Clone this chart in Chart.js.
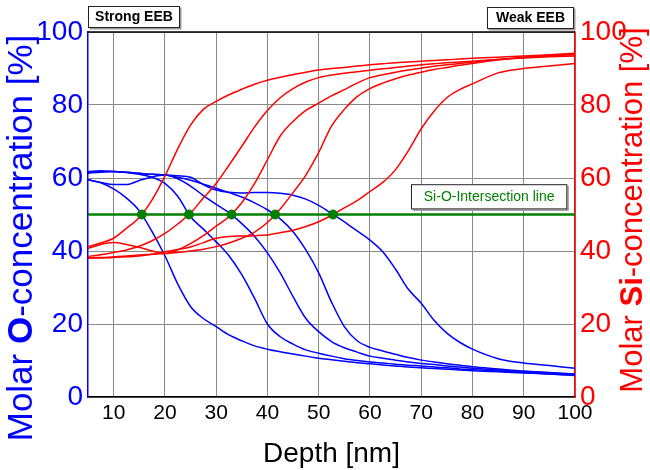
<!DOCTYPE html>
<html>
<head>
<meta charset="utf-8">
<script src="https://cdn.jsdelivr.net/npm/chart.js@4.4.1/dist/chart.umd.min.js"></script>
<style>
  html, body { margin: 0; padding: 0; background: #fff; }
  canvas { display: block; }
</style>
</head>
<body>
<canvas id="c" width="650" height="470" style="width:650px;height:470px"></canvas>
<script>
// Sputter depth grid (nm) shared by all profiles
const depth = [5, 7.5, 10, 12.5, 15, 17.5, 20, 22.5, 25, 27.5, 30, 32.5, 35, 37.5, 40, 42.5, 45, 47.5, 50,
  52.5, 55, 57.5, 60, 62.5, 65, 67.5, 70, 72.5, 75, 77.5, 80, 85, 90, 95, 100];

// Oxygen profiles (molar %), strong EEB -> weak EEB
const oxygen1 = [59.5, 58.7, 57, 54.5, 51, 45.3, 38.7, 31, 24.8, 21.5, 19.3, 17, 15.4, 14, 13.1, 12.4, 11.8, 11.2, 10.6,
  10.2, 9.8, 9.4, 9.1, 8.8, 8.5, 8.2, 8, 7.8, 7.6, 7.4, 7.2, 6.9, 6.6, 6.3, 5.9];
const oxygen2 = [61.8, 62, 61.8, 61.5, 61, 60.2, 58.5, 55, 49.4, 46, 42.5, 38.7, 33.5, 27, 20, 16.5, 14.5, 12.9, 12,
  11.2, 10.5, 10, 9.6, 9.3, 9, 8.7, 8.5, 8.2, 8, 7.7, 7.5, 7.1, 6.7, 6.3, 6];
const oxygen3 = [59.5, 58.8, 58.2, 58.2, 59.3, 60.3, 60.8, 59.8, 57.8, 55.2, 52.8, 50.5, 47.5, 44, 39.5, 34, 27.5, 21.5, 17.9,
  15.2, 13.5, 12.3, 11.2, 10.6, 10.1, 9.6, 9.2, 8.9, 8.5, 8.2, 7.9, 7.4, 7, 6.6, 6.2];
const oxygen4 = [61.5, 61.8, 61.8, 61.6, 61.3, 61, 60.8, 60.2, 59.4, 58.3, 57.2, 56, 54.8, 53.2, 51.3, 48.8, 45.3, 40.3, 34,
  26, 19.3, 15.4, 13.6, 12.6, 11.7, 10.8, 10.1, 9.6, 9.1, 8.7, 8.3, 7.7, 7.1, 6.7, 6.3];
const oxygen5 = [61.3, 61.6, 61.8, 61.6, 61.3, 61, 60.8, 60.6, 60.2, 58.2, 56.7, 56.1, 55.9, 56, 56, 55.8, 55.3, 54.2, 52.5,
  50.3, 48, 45.5, 43, 39.8, 35, 29.5, 25.7, 21, 17.5, 15, 13.1, 10.5, 9.3, 8.6, 7.9];

// Silicon profiles (molar %), same order
const silicon1 = [41.2, 42.2, 43.5, 46.2, 49.2, 54, 60.5, 68, 74.5, 78.8, 81, 82.8, 84.3, 85.7, 86.8, 87.6, 88.3, 89, 89.6,
  90, 90.3, 90.7, 91, 91.3, 91.6, 91.8, 92, 92.2, 92.4, 92.6, 92.8, 93.1, 93.4, 93.8, 94.2];
const silicon2 = [38.5, 39, 39.6, 40.3, 41.3, 42.8, 44.8, 47.4, 50.4, 54.5, 58.5, 63.5, 68.7, 74, 78.5, 82, 84.5, 86.3, 87.5,
  88.2, 88.7, 89.1, 89.5, 89.9, 90.3, 90.7, 91, 91.3, 91.6, 91.8, 92, 92.5, 92.9, 93.2, 93.4];
const silicon3 = [40.7, 41.8, 42.3, 41.8, 41, 40, 39.3, 40.3, 42, 44.2, 46.8, 49.4, 53.2, 58.5, 65, 71.5, 75.5, 78.5, 80.5,
  82.5, 84.2, 86, 87.5, 88.3, 89, 89.6, 90.1, 90.6, 91, 91.4, 91.8, 92.5, 93.1, 93.6, 94];
const silicon4 = [38.2, 38.2, 38.4, 38.6, 38.9, 39.1, 39.3, 39.6, 40, 40.5, 41.2, 42.2, 43.5, 45.2, 47.8, 51.5, 56, 60.8, 67,
  74.2, 78.8, 82.3, 84.5, 86, 87.2, 88.2, 89, 89.7, 90.3, 90.9, 91.4, 92.3, 93, 93.4, 93.8];
const silicon5 = [38, 38.1, 38.2, 38.4, 38.6, 39.1, 39.8, 40.4, 41.1, 42.3, 43.5, 44, 44.1, 44.2, 44.4, 45, 45.7, 46.7, 48,
  49.8, 51.8, 53.8, 56.3, 58.8, 62.3, 67.5, 73.5, 78.3, 82, 84.2, 85.8, 88.8, 90, 90.7, 91.4];

// Si-O intersection points
const crossDepth = [15.5, 24.7, 33, 41.5, 52.8];
const crossConc = [50, 50, 50, 50, 50];
const lineDepth = [5, 100];
const lineConc = [50, 50];

const xTicks = [10, 20, 30, 40, 50, 60, 70, 80, 90, 100];
const yTicks = [0, 20, 40, 60, 80, 100];

const FONT = "'Liberation Sans', Arial, sans-serif";
const BLUE = '#0000ff', RED = '#ff0000', GREEN = '#008000';

const pts = (xs, ys) => xs.map((x, i) => ({ x, y: ys[i] }));

function profile(values, color, axis) {
  return {
    type: 'line', data: pts(depth, values), yAxisID: axis,
    borderColor: color, borderWidth: 1.5, pointRadius: 0,
    cubicInterpolationMode: 'monotone', fill: false
  };
}

const datasets = [
  { type: 'scatter', data: pts(crossDepth, crossConc), yAxisID: 'yO', pointRadius: 4.5,
    pointBackgroundColor: GREEN, pointBorderColor: GREEN, showLine: false, order: 0 },
  { type: 'line', data: pts(lineDepth, lineConc), yAxisID: 'yO', borderColor: GREEN, borderWidth: 2.5,
    pointRadius: 0, order: 1 },
  ...[silicon1, silicon2, silicon3, silicon4, silicon5].map(v => Object.assign(profile(v, RED, 'ySi'), { order: 2 })),
  ...[oxygen1, oxygen2, oxygen3, oxygen4, oxygen5].map(v => Object.assign(profile(v, BLUE, 'yO'), { order: 3 }))
];

// Writes a rotated axis title made of plain and bold pieces
function drawMixedTitle(ctx, parts, size, color, cx, cy, angle) {
  ctx.save();
  ctx.translate(cx, cy);
  ctx.rotate(angle);
  ctx.fillStyle = color;
  ctx.textBaseline = 'middle';
  ctx.textAlign = 'left';
  let total = 0;
  parts.forEach(p => { ctx.font = (p.bold ? 'bold ' : '') + size + 'px ' + FONT; total += ctx.measureText(p.text).width; });
  let x = -total / 2;
  parts.forEach(p => {
    ctx.font = (p.bold ? 'bold ' : '') + size + 'px ' + FONT;
    ctx.fillText(p.text, x, 0);
    x += ctx.measureText(p.text).width;
  });
  ctx.restore();
}

function labelBox(ctx, x0, y0, x1, y1, text, font, color) {
  ctx.save();
  ctx.fillStyle = '#9a9a9a';
  ctx.fillRect(x0 + 1.5, y0 + 1.5, x1 - x0, y1 - y0);
  ctx.fillStyle = '#fff';
  ctx.fillRect(x0, y0, x1 - x0, y1 - y0);
  ctx.strokeStyle = '#222';
  ctx.lineWidth = 1;
  ctx.strokeRect(x0 + 0.5, y0 + 0.5, x1 - x0 - 1, y1 - y0 - 1);
  ctx.fillStyle = color;
  ctx.font = font;
  ctx.textAlign = 'center';
  ctx.textBaseline = 'middle';
  ctx.fillText(text, (x0 + x1) / 2, (y0 + y1) / 2 + 0.5);
  ctx.restore();
}

const decorations = {
  id: 'decorations',
  afterDraw(chart) {
    const { ctx, chartArea: a, scales } = chart;
    // top frame edge
    ctx.save();
    ctx.strokeStyle = '#000';
    ctx.lineWidth = 1.5;
    ctx.beginPath();
    ctx.moveTo(a.left, a.top);
    ctx.lineTo(a.right, a.top);
    ctx.stroke();
    ctx.restore();

    drawMixedTitle(ctx, [{ text: 'Molar ' }, { text: 'O', bold: true }, { text: '-concentration [%]' }],
      35, BLUE, 22, 238, -Math.PI / 2);
    drawMixedTitle(ctx, [{ text: 'Molar ' }, { text: 'Si', bold: true }, { text: '-concentration [%]' }],
      31, RED, 633, 210, -Math.PI / 2);

    ctx.save();
    ctx.fillStyle = '#000';
    ctx.font = '28px ' + FONT;
    ctx.textAlign = 'center';
    ctx.textBaseline = 'alphabetic';
    ctx.fillText('Depth [nm]', (a.left + a.right) / 2, 462);
    ctx.restore();

    labelBox(ctx, a.left, 6, a.left + 92, 28, 'Strong EEB', 'bold 14px ' + FONT, '#000');
    labelBox(ctx, a.right - 88, 7, a.right - 1, 29, 'Weak EEB', 'bold 14px ' + FONT, '#000');
    const x = scales.x, y = scales.yO;
    labelBox(ctx, x.getPixelForValue(68), y.getPixelForValue(58.3), x.getPixelForValue(98.5), y.getPixelForValue(51.4),
      'Si-O-Intersection line', '14px ' + FONT, GREEN);
  }
};

const yAxis = (pos, color) => ({
  type: 'linear', position: pos, min: 0, max: 100,
  afterBuildTicks: s => { s.ticks = yTicks.map(v => ({ value: v })); },
  afterFit: s => { s.width = pos === 'left' ? 88 : 75; },
  grid: { display: pos === 'left', color: '#8a8a8a', lineWidth: 1, drawTicks: false },
  border: { color, width: 1.5 },
  ticks: { color, font: { family: FONT, size: 28 }, padding: 5 }
});

new Chart(document.getElementById('c'), {
  data: { datasets },
  options: {
    responsive: false, animation: false,
    layout: { padding: { top: 32, left: 0, right: 0, bottom: 0 } },
    plugins: { legend: { display: false }, tooltip: { enabled: false } },
    scales: {
      x: {
        type: 'linear', min: 5, max: 100,
        afterBuildTicks: s => { s.ticks = xTicks.map(v => ({ value: v })); },
        afterFit: s => { s.height = 73; },
        grid: { color: '#8a8a8a', lineWidth: 1, drawTicks: false },
        border: { color: '#000', width: 1.5 },
        ticks: { color: '#000', font: { family: FONT, size: 21 }, padding: 4, maxRotation: 0 }
      },
      yO: yAxis('left', BLUE),
      ySi: yAxis('right', RED)
    }
  },
  plugins: [decorations]
});
</script>
</body>
</html>
